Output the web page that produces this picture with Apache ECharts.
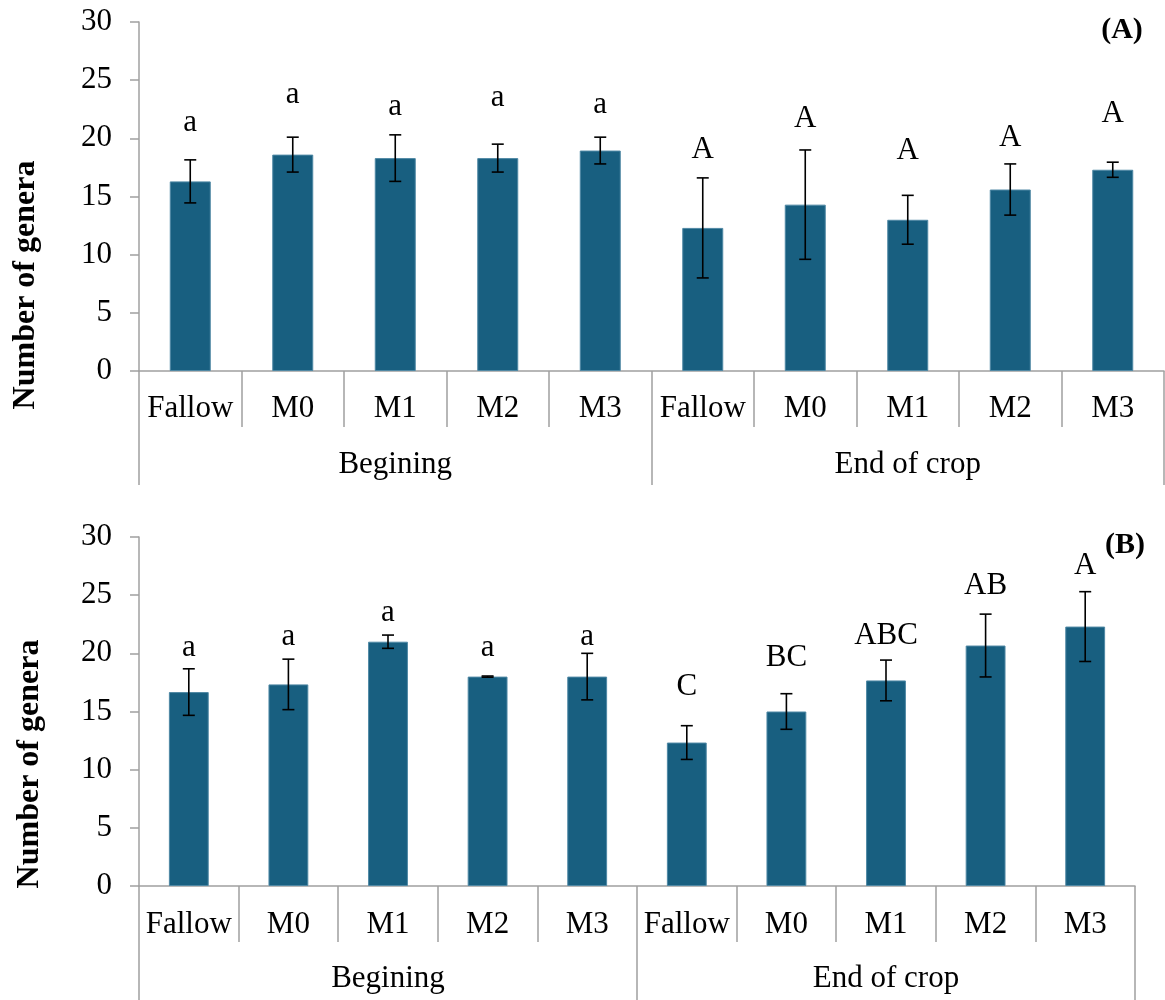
<!DOCTYPE html>
<html>
<head>
<meta charset="utf-8">
<title>Number of genera</title>
<script src="https://cdn.jsdelivr.net/npm/echarts@6/dist/echarts.min.js"></script>
<style>
  html, body { margin: 0; padding: 0; background: #ffffff; }
  #chart { width: 1165px; height: 1000px; }
</style>
</head>
<body>
<div id="chart"></div>
<script>
// Treatments within each sampling period
const categories = ['Fallow', 'M0', 'M1', 'M2', 'M3', 'Fallow', 'M0', 'M1', 'M2', 'M3'];
const periods = ['Begining', 'End of crop'];

// Panel (A): mean number of genera and standard error
const meanA = [16.3, 18.6, 18.3, 18.3, 18.95, 12.3, 14.3, 13.0, 15.6, 17.3];
const errA = [1.85, 1.5, 2.0, 1.2, 1.15, 4.3, 4.7, 2.1, 2.2, 0.65];
const lettersA = ['a', 'a', 'a', 'a', 'a', 'A', 'A', 'A', 'A', 'A'];
const letterLevelA = [21.3, 23.7, 22.7, 23.45, 22.9, 19.0, 21.7, 18.9, 20.0, 22.1];

// Panel (B): mean number of genera and standard error
const meanB = [16.67, 17.33, 21.0, 18.0, 18.0, 12.33, 15.0, 17.67, 20.67, 22.3];
const errB = [2.0, 2.17, 0.57, 0.05, 2.0, 1.45, 1.53, 1.75, 2.7, 3.0];
const lettersB = ['a', 'a', 'a', 'a', 'a', 'C', 'BC', 'ABC', 'AB', 'A'];
const letterLevelB = [20.5, 21.4, 23.5, 20.5, 21.45, 17.1, 19.6, 21.5, 25.8, 27.5];

// Value axis range
const yMin = 0, yMax = 30, yStep = 5;

const FONT = "'Liberation Serif', 'Times New Roman', Times, serif";
const BAR = '#185f80';
const AXIS = '#a0a0a0';

const chart = echarts.init(document.getElementById('chart'), null, { renderer: 'canvas' });

const grids = [
  { left: 139, right: 1, top: 22, height: 349 },
  { left: 139, right: 30, top: 537, height: 349 }
];

function xAxesFor(gi, catMargin, groupMargin) {
  return [
    {
      gridIndex: gi, type: 'category', data: categories, position: 'bottom',
      axisLine: { show: true, lineStyle: { color: AXIS, width: 1.5 } },
      axisTick: { show: true, interval: 0, length: 56, lineStyle: { color: AXIS, width: 1.5 } },
      axisLabel: { interval: 0, margin: catMargin, color: '#000', fontFamily: FONT, fontSize: 31 },
      splitLine: { show: false }
    },
    {
      gridIndex: gi, type: 'category', data: periods, position: 'bottom',
      axisLine: { show: false },
      axisTick: { show: true, interval: 0, length: 114, lineStyle: { color: AXIS, width: 1.5 } },
      axisLabel: { interval: 0, margin: groupMargin, color: '#000', fontFamily: FONT, fontSize: 31 },
      splitLine: { show: false }
    }
  ];
}

function yAxisFor(gi) {
  return {
    gridIndex: gi, type: 'value', min: yMin, max: yMax, interval: yStep,
    axisLine: { show: true, lineStyle: { color: AXIS, width: 1.5 } },
    axisTick: { show: true, length: 9, lineStyle: { color: AXIS, width: 1.5 } },
    axisLabel: { margin: 27, color: '#000', fontFamily: FONT, fontSize: 31 },
    splitLine: { show: false }
  };
}

function panelSeries(gi, means, errs, letters, levels) {
  const xi = gi * 2;
  return [
    {
      type: 'bar', xAxisIndex: xi, yAxisIndex: gi, data: means, barWidth: '40%',
      itemStyle: { color: BAR, borderColor: '#4f88a4', borderWidth: 1 },
      silent: true, z: 2
    },
    {
      type: 'custom', xAxisIndex: xi, yAxisIndex: gi, z: 5, silent: true,
      data: means.map((m, i) => [i, m, errs[i]]),
      renderItem: function (params, api) {
        const x = api.value(0), m = api.value(1), e = api.value(2);
        const top = api.coord([x, m + e]);
        const bot = api.coord([x, m - e]);
        const cap = 6;
        const st = { stroke: '#000', lineWidth: 1.6 };
        return {
          type: 'group',
          children: [
            { type: 'line', shape: { x1: top[0], y1: top[1], x2: bot[0], y2: bot[1] }, style: st },
            { type: 'line', shape: { x1: top[0] - cap, y1: top[1], x2: top[0] + cap, y2: top[1] }, style: st },
            { type: 'line', shape: { x1: bot[0] - cap, y1: bot[1], x2: bot[0] + cap, y2: bot[1] }, style: st }
          ]
        };
      }
    },
    {
      type: 'custom', xAxisIndex: xi, yAxisIndex: gi, z: 6, silent: true,
      data: levels.map((v, i) => [i, v]),
      renderItem: function (params, api) {
        const p = api.coord([api.value(0), api.value(1)]);
        return {
          type: 'text',
          style: {
            text: letters[params.dataIndex], x: p[0], y: p[1],
            align: 'center', verticalAlign: 'middle',
            font: '31px ' + FONT, fill: '#000'
          }
        };
      }
    }
  ];
}

const option = {
  animation: false,
  backgroundColor: '#ffffff',
  grid: grids,
  xAxis: [].concat(xAxesFor(0, 22, 78), xAxesFor(1, 23, 77)),
  yAxis: [yAxisFor(0), yAxisFor(1)],
  series: [].concat(
    panelSeries(0, meanA, errA, lettersA, letterLevelA),
    panelSeries(1, meanB, errB, lettersB, letterLevelB)
  ),
  graphic: [
    {
      type: 'text', x: 26, y: 285, rotation: Math.PI / 2,
      style: { text: 'Number of genera', font: 'bold 32px ' + FONT, fill: '#000', align: 'center', verticalAlign: 'middle' }
    },
    {
      type: 'text', x: 30, y: 764, rotation: Math.PI / 2,
      style: { text: 'Number of genera', font: 'bold 32px ' + FONT, fill: '#000', align: 'center', verticalAlign: 'middle' }
    },
    {
      type: 'text', x: 1122, y: 30,
      style: { text: '(A)', font: 'bold 30px ' + FONT, fill: '#000', align: 'center', verticalAlign: 'middle' }
    },
    {
      type: 'text', x: 1125, y: 545,
      style: { text: '(B)', font: 'bold 30px ' + FONT, fill: '#000', align: 'center', verticalAlign: 'middle' }
    }
  ]
};

chart.setOption(option);
</script>
</body>
</html>
